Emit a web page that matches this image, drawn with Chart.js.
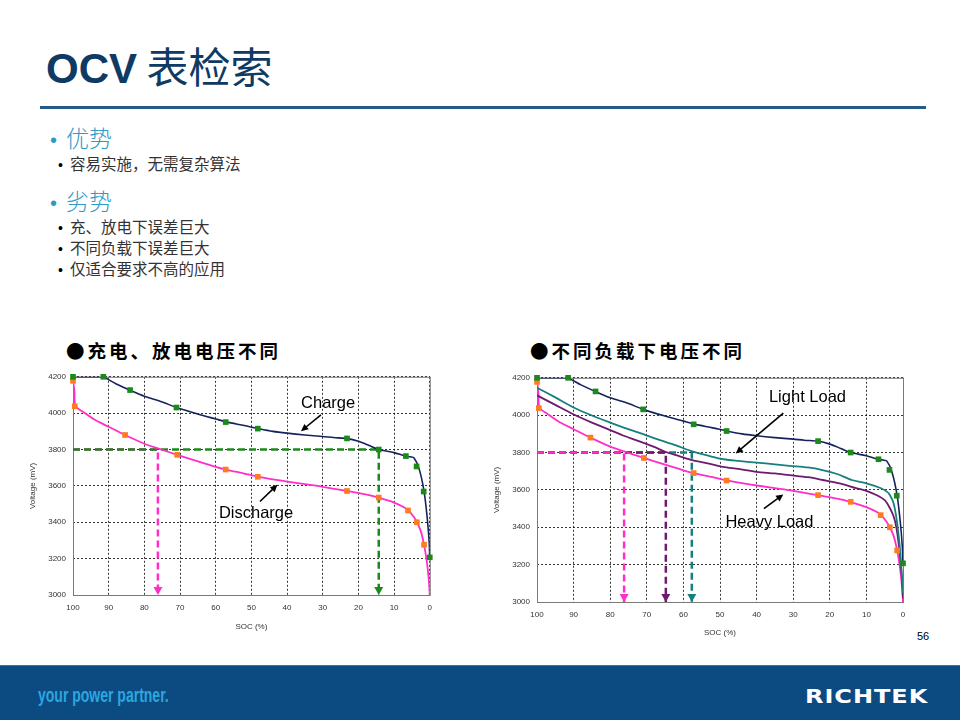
<!DOCTYPE html>
<html>
<head>
<meta charset="utf-8">
<script src="https://cdn.jsdelivr.net/npm/chart.js@4.4.0/dist/chart.umd.min.js"></script>
<style>
  html, body { margin: 0; padding: 0; background: #fff; }
  #slide { position: relative; width: 960px; height: 720px; overflow: hidden; font-family: "Liberation Sans", Arial, "Noto Sans CJK SC", sans-serif; }
  .abs { position: absolute; white-space: nowrap; }
  #title { left: 46px; top: 40px; font-size: 42px; line-height: 50px; color: #0e3a63; }
  #title b { font-weight: bold; }
  #title span { font-family: "Noto Sans CJK SC", sans-serif; font-weight: 400; }
  #rule { left: 40px; top: 106px; width: 886px; height: 3px; background: #245a8c; }
  .h1 { font-family: "Noto Sans CJK SC", sans-serif; font-weight: 300; font-size: 23px; color: #2e9ac6; line-height: 30px; }
  .h1 i { font-family: "Liberation Sans", Arial, sans-serif; font-style: normal; font-size: 20px; display: inline-block; width: 16px; }
  .h2 { font-family: "Noto Sans CJK SC", sans-serif; font-size: 15.5px; color: #333; line-height: 20px; }
  .h2 i { font-family: "Liberation Sans", Arial, sans-serif; font-style: normal; display: inline-block; width: 12px; color: #000; font-size: 14px; }
  .ch { font-family: "Noto Sans CJK SC", sans-serif; font-weight: 700; font-size: 18.5px; letter-spacing: 3px; color: #000; line-height: 24px; }
  canvas { position: absolute; }
  #footer { left: 0; top: 665px; width: 960px; height: 55px; background: #0c4a82; border-top: 1px solid #3f74a6; }
  #tag { left: 38px; top: 684px; font-family: "Liberation Sans", Arial, sans-serif; font-weight: bold; font-size: 20px; color: #2aa7df; transform: scaleX(0.7); transform-origin: 0 50%; }
  #logo { left: 805px; top: 684px; font-family: "DejaVu Sans", sans-serif; font-weight: bold; font-size: 20px; color: #fff; letter-spacing: 0.8px; transform: scaleX(1.2); transform-origin: 0 50%; }
  #page { left: 917px; top: 630px; font-size: 11px; color: #000; }
</style>
</head>
<body>
<div id="slide">
  <div class="abs" id="title"><b>OCV</b><span> 表检索</span></div>
  <div class="abs" id="rule"></div>
  <div class="abs h1" style="left:50px;top:122px"><i>•</i>优势</div>
  <div class="abs h2" style="left:58px;top:153px"><i>•</i>容易实施，无需复杂算法</div>
  <div class="abs h1" style="left:50px;top:185px"><i>•</i>劣势</div>
  <div class="abs h2" style="left:58px;top:216px"><i>•</i>充、放电下误差巨大</div>
  <div class="abs h2" style="left:58px;top:237px"><i>•</i>不同负载下误差巨大</div>
  <div class="abs h2" style="left:58px;top:258px"><i>•</i>仅适合要求不高的应用</div>

  <div class="abs ch" style="left:66px;top:338px">●充电、放电电压不同</div>
  <div class="abs ch" style="left:530px;top:338px">●不同负载下电压不同</div>

  <canvas id="leftChart" style="left:20px;top:365px;width:420px;height:275px" width="420" height="275"></canvas>
  <canvas id="rightChart" style="left:484px;top:366px;width:430px;height:280px" width="430" height="280"></canvas>

  <div class="abs" id="page">56</div>
  <div class="abs" id="footer"></div>
  <div class="abs" id="tag">your power partner.</div>
  <div class="abs" id="logo">RICHTEK</div>
</div>

<script>
// ---- data (SOC %, mV) ----
const chargeLineSoc = [100, 92, 88, 84, 80, 75, 71, 65, 60, 57, 52, 48, 44, 40, 35, 30, 27, 23, 20, 17, 14.3, 10, 7, 5.5, 4.4, 3, 1.6, 0.7, 0.2, 0];
const chargeLineMv  = [4200, 4200, 4162, 4126, 4093, 4062, 4031, 3995, 3968, 3952, 3932, 3915, 3900, 3890, 3880, 3872, 3866, 3860, 3845, 3822, 3800, 3783, 3765, 3760, 3754, 3695, 3570, 3420, 3300, 3200];
const chargeMarkSoc = [100, 91.5, 84, 71, 57.2, 48.2, 23.2, 14.3, 6.7, 3.7, 1.7, 0];
const chargeMarkMv  = [4200, 4200, 4127, 4031, 3951, 3915, 3861, 3800, 3764, 3707, 3569, 3207];

const dischargeLineSoc = [100, 99.6, 99.3, 97, 94, 90, 85.4, 80, 76, 70.8, 65, 60, 57.2, 52, 48.2, 42, 36, 30, 23.2, 18, 14.3, 10, 7, 6, 4.5, 3.6, 2.5, 1.6, 0.8, 0.3, 0];
const dischargeLineMv  = [4180, 4120, 4040, 4005, 3965, 3925, 3880, 3832, 3805, 3771, 3735, 3705, 3690, 3668, 3651, 3630, 3612, 3595, 3572, 3553, 3535, 3508, 3480, 3465, 3430, 3400, 3350, 3276, 3180, 3090, 3000];
const dischargeMarkSoc = [100, 99.5, 85.4, 70.8, 57.2, 48.2, 23.2, 14.3, 6.1, 3.6, 1.6];
const dischargeMarkMv  = [4178, 4038, 3880, 3771, 3690, 3650, 3572, 3536, 3465, 3400, 3276];

const lightLoadSoc = [100, 95, 90, 85, 80, 76.5, 72, 67.4, 62, 57.6, 53, 49, 45, 40, 35, 31, 26, 22, 18, 14, 10, 6, 4.5, 3.6, 2.6, 1.8, 1, 0.5, 0];
const lightLoadMv  = [4147, 4095, 4041, 3998, 3960, 3935, 3905, 3873, 3838, 3806, 3782, 3764, 3755, 3746, 3737, 3729, 3720, 3706, 3685, 3653, 3635, 3609, 3592, 3573, 3530, 3450, 3320, 3200, 3050];

const midLoadSoc = [100, 95, 90.2, 85, 80, 76.5, 72, 68, 64.8, 61, 57.6, 53, 49.2, 45, 40, 35, 31, 26, 21.9, 17, 12.8, 10, 7.3, 5, 3.6, 2.5, 1.8, 1, 0.4, 0];
const midLoadMv  = [4106, 4055, 4006, 3960, 3920, 3891, 3860, 3830, 3803, 3780, 3759, 3740, 3723, 3712, 3697, 3688, 3679, 3668, 3653, 3633, 3609, 3595, 3573, 3545, 3503, 3455, 3397, 3280, 3150, 3020];

// lookup voltage and where each curve crosses it
const lookupMv = 3800;
const leftGuideSoc  = [14.3, 76.2];        // charge, discharge
const rightGuideSoc = [57.7, 64.8, 76.2];  // light, mid, heavy

// callouts: text placed at [soc, mV], arrows from -> to
const leftNotes  = [["Charge", 28.5, 4054], ["Discharge", 48.7, 3450]];
const leftArrows = [[30.5, 3991, 36.1, 3901], [47.6, 3514, 42.7, 3607]];
const rightNotes  = [["Light Load", 26.1, 4094], ["Heavy Load", 36.5, 3427]];
const rightArrows = [[32.7, 4011, 45.7, 3795], [38, 3500, 32.7, 3576]];

const pts = (xs, ys) => xs.map((x, i) => ({x: x, y: ys[i]}));
const guide = (soc) => [{x: 100, y: lookupMv}, {x: soc, y: lookupMv}, {x: soc, y: 3000}];

const NAVY = '#14235e', GREEN = '#1b8a1b', PINK = '#ff2fc8', ORANGE = '#ff7a22', TEAL = '#17807e', PURPLE = '#6e1a6e';

// note: first dataset in the list ends up on top
function curve(data, color, w) {
  return {data: data, borderColor: color, borderWidth: w, pointRadius: 0, showLine: true, tension: 0.3, fill: false};
}
function marks(data, fillc) {
  return {data: data, showLine: false, pointRadius: 4, pointStyle: 'rect', clip: false,
    pointBackgroundColor: fillc, pointBorderColor: fillc, pointBorderWidth: 0};
}
function guideSet(soc, color) {
  return {data: guide(soc), borderColor: color, borderWidth: 2.5, borderDash: [7, 4], pointRadius: 0, showLine: true, fill: false, isGuide: true};
}

// frame, arrowheads on guides and callouts
const decor = {
  id: 'decor',
  beforeDatasetsDraw(chart) {
    const ctx = chart.ctx, a = chart.chartArea;
    ctx.save();
    ctx.strokeStyle = '#7a7a7a';
    ctx.lineWidth = 1;
    ctx.strokeRect(a.left + 0.5, a.top + 0.5, a.right - a.left, a.bottom - a.top);
    ctx.restore();
  },
  afterDatasetsDraw(chart, args, opts) {
    const ctx = chart.ctx, sx = chart.scales.x, sy = chart.scales.y;
    ctx.save();
    chart.data.datasets.forEach((ds, i) => {
      if (!ds.isGuide) return;
      const p = chart.getDatasetMeta(i).data[2];
      ctx.fillStyle = ds.borderColor;
      ctx.beginPath();
      ctx.moveTo(p.x - 4.5, p.y - 8);
      ctx.lineTo(p.x + 4.5, p.y - 8);
      ctx.lineTo(p.x, p.y);
      ctx.closePath();
      ctx.fill();
    });
    ctx.fillStyle = '#000';
    ctx.font = opts.size + 'px "Liberation Sans", Arial, sans-serif';
    ctx.textAlign = 'center';
    ctx.textBaseline = 'middle';
    opts.notes.forEach(n => ctx.fillText(n[0], sx.getPixelForValue(n[1]), sy.getPixelForValue(n[2])));
    ctx.strokeStyle = '#000';
    ctx.lineWidth = 1.6;
    opts.arrows.forEach(r => {
      const x1 = sx.getPixelForValue(r[0]), y1 = sy.getPixelForValue(r[1]);
      const x2 = sx.getPixelForValue(r[2]), y2 = sy.getPixelForValue(r[3]);
      const ang = Math.atan2(y2 - y1, x2 - x1);
      ctx.beginPath();
      ctx.moveTo(x1, y1);
      ctx.lineTo(x2 - 5 * Math.cos(ang), y2 - 5 * Math.sin(ang));
      ctx.stroke();
      ctx.beginPath();
      ctx.moveTo(x2, y2);
      ctx.lineTo(x2 - 8 * Math.cos(ang - 0.45), y2 - 8 * Math.sin(ang - 0.45));
      ctx.lineTo(x2 - 8 * Math.cos(ang + 0.45), y2 - 8 * Math.sin(ang + 0.45));
      ctx.closePath();
      ctx.fill();
    });
    ctx.restore();
  }
};

function makeOptions(yw, xh, pad, notes, arrows, titlePad) {
  const tickFont = {family: '"Liberation Sans", Arial, sans-serif', size: 8};
  return {
    responsive: false,
    animation: false,
    layout: {padding: pad},
    plugins: {legend: {display: false}, tooltip: {enabled: false},
      decor: {notes: notes, arrows: arrows, size: 16.5}},
    scales: {
      x: {type: 'linear', reverse: true, min: 0, max: 100,
        ticks: {stepSize: 10, font: tickFont, color: '#333', padding: 8, maxRotation: 0, callback: v => String(v)},
        grid: {color: '#000', lineWidth: 0.8, drawTicks: false},
        border: {display: false, dash: [2, 2]},
        title: {display: true, text: 'SOC (%)', font: tickFont, color: '#333', padding: {top: 0, bottom: titlePad.x}},
        afterFit(s) { s.height = xh; }},
      y: {type: 'linear', min: 3000, max: 4200,
        ticks: {stepSize: 200, font: tickFont, color: '#333', padding: 7, callback: v => String(v)},
        grid: {color: '#000', lineWidth: 0.8, drawTicks: false},
        border: {display: false, dash: [2, 2]},
        title: {display: true, text: 'Voltage (mV)', font: tickFont, color: '#333', padding: {top: titlePad.y, bottom: 0}},
        afterFit(s) { s.width = yw; }}
    }
  };
}

new Chart(document.getElementById('leftChart'), {
  type: 'scatter',
  data: {datasets: [
    marks(pts(chargeMarkSoc, chargeMarkMv), GREEN),
    marks(pts(dischargeMarkSoc, dischargeMarkMv), ORANGE),
    curve(pts(chargeLineSoc, chargeLineMv), NAVY, 1.6),
    curve(pts(dischargeLineSoc, dischargeLineMv), PINK, 1.8),
    guideSet(leftGuideSoc[0], GREEN),
    guideSet(leftGuideSoc[1], PINK)
  ]},
  options: makeOptions(53, 45, {top: 8, right: 9}, leftNotes, leftArrows, {x: 8, y: 8}),
  plugins: [decor]
});

new Chart(document.getElementById('rightChart'), {
  type: 'scatter',
  data: {datasets: [
    marks(pts(chargeMarkSoc, chargeMarkMv), GREEN),
    marks(pts(dischargeMarkSoc, dischargeMarkMv), ORANGE),
    curve(pts(chargeLineSoc, chargeLineMv), NAVY, 1.6),
    curve(pts(lightLoadSoc, lightLoadMv), TEAL, 1.8),
    curve(pts(midLoadSoc, midLoadMv), PURPLE, 1.8),
    curve(pts(dischargeLineSoc, dischargeLineMv), PINK, 1.8),
    guideSet(rightGuideSoc[2], PINK),
    guideSet(rightGuideSoc[1], PURPLE),
    guideSet(rightGuideSoc[0], TEAL)
  ]},
  options: makeOptions(53, 44, {top: 9, right: 11}, rightNotes, rightArrows, {x: 8, y: 8}),
  plugins: [decor]
});
</script>
</body>
</html>
